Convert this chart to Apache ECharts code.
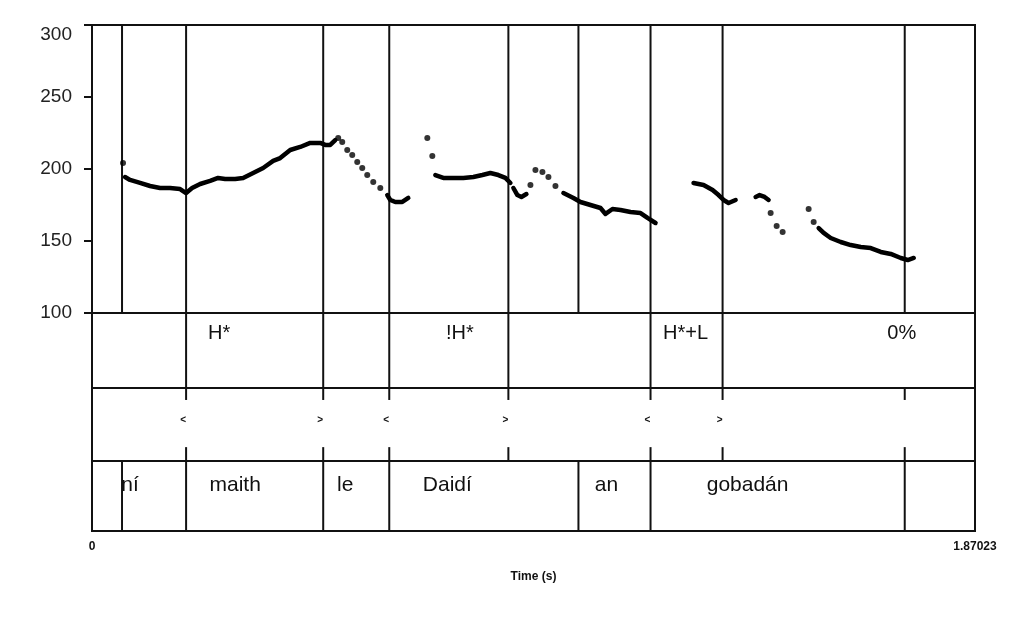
<!DOCTYPE html>
<html><head><meta charset="utf-8">
<script src="https://cdn.jsdelivr.net/npm/echarts@6/dist/echarts.min.js"></script>
<style>html,body{margin:0;padding:0;background:#fff}#c{width:1024px;height:624px}</style>
</head><body><div id="c"></div><script>
const T_MAX = 1.87023;
const yTicks = [100, 150, 200, 250, 300];
const xTickLabels = ['0', '1.87023'];

// pitch contour (seconds, Hz); null separates continuous stretches
const contourTime = [
0.0700,0.0806,0.1018,0.1230,0.1442,0.1654,0.1866,0.1993,0.2120,0.2290,0.2502,0.2671,0.2820,0.3032,0.3201,0.3413,0.3625,0.3837,0.3986,0.4198,0.4410,0.4622,0.4834,0.4940,0.5046,0.5152, null,
0.6254,0.6318,0.6424,0.6572,0.6699, null,
0.7272,0.7441,0.7653,0.7865,0.8077,0.8268,0.8438,0.8607,0.8756,0.8862, null,
0.8925,0.9010,0.9095,0.9201, null,
0.9985,1.0197,1.0346,1.0558,1.0770,1.0876,1.1024,1.1194,1.1406,1.1618,1.1766,1.1936, null,
1.2741,1.2953,1.3144,1.3271,1.3377,1.3483,1.3632, null,
1.4056,1.4140,1.4246,1.4331, null,
1.5391,1.5497,1.5646,1.5858,1.6070,1.6282,1.6494,1.6706,1.6918,1.7130,1.7278,1.7405
];
const contourHz = [
194.4,192.4,190.3,188.2,186.8,186.8,186.1,183.3,186.8,189.6,191.7,193.8,193.1,193.1,193.8,197.2,200.7,205.6,207.6,213.2,215.3,218.1,218.1,216.7,216.7,220.1, null,
181.9,178.5,177.1,177.1,179.9, null,
195.8,193.8,193.8,193.8,194.4,195.8,197.2,195.8,193.8,190.3, null,
186.8,181.9,180.6,182.6, null,
183.3,179.9,177.1,175.0,172.9,168.8,172.2,171.5,170.1,169.4,166.0,162.5, null,
190.3,188.9,185.4,181.9,178.5,176.4,178.5, null,
180.6,181.9,180.6,178.5, null,
159.0,155.6,152.1,149.3,147.2,145.8,145.1,142.4,141.0,138.2,136.8,138.2
];
// isolated pitch points
const dotTime = [0.0657, 0.5215,0.5300,0.5406,0.5512,0.5618,0.5724,0.5830,0.5957,0.6106, 0.7102,0.7208, 0.9286, 0.9392,0.9540,0.9667,0.9816, 1.4374,1.4501,1.4628, 1.5179,1.5285];
const dotHz   = [204.2, 221.5,218.8,213.2,209.7,204.9,200.7,195.8,191.0,186.8, 221.5,209.0, 188.9, 199.3,197.9,194.4,188.2, 169.4,160.4,156.2, 172.2,163.2];

const pitchBounds = [0.0636, 0.1993, 0.4897, 0.6296, 0.8819, 1.0303, 1.1830, 1.3356, 1.7214];
const toneBounds  = [0.1993, 0.4897, 0.6296, 0.8819, 1.1830, 1.3356];
const toneLabels  = ['H*', '!H*', 'H*+L', '0%'];
const toneTimes   = [0.2692, 0.7791, 1.2572, 1.7151];
const breakBounds = [0.1993, 0.4897, 0.6296, 0.8819, 1.1830, 1.3356, 1.7214];
const breakMarks  = ['<', '>', '<', '>', '<', '>'];
const breakTimes  = [0.1993, 0.4897, 0.6296, 0.8819, 1.1830, 1.3356];
const wordBounds  = [0.0636, 0.1993, 0.4897, 0.6296, 1.0303, 1.1830, 1.7214];
const words       = ['ní', 'maith', 'le', 'Daidí', 'an', 'gobadán'];
const wordTimes   = [0.0806, 0.3032, 0.5364, 0.7526, 1.0897, 1.3886];

const FONT = '"Liberation Sans", Arial, sans-serif';
const INK = '#111';

function vlines(gi, times, y0, y1) {
  return {
    type: 'custom', xAxisIndex: gi, yAxisIndex: gi, silent: true, animation: false,
    data: times.map(t => [t, y0]), encode: { x: 0, y: 1 },
    renderItem: (p, api) => {
      const a = api.coord([api.value(0), y0]);
      const b = api.coord([api.value(0), y1]);
      return { type: 'line', shape: { x1: a[0], y1: a[1], x2: b[0], y2: b[1] },
               style: { stroke: INK, lineWidth: 2 } };
    }
  };
}
function texts(gi, times, labels, yv, size, weight, dx) {
  return {
    type: 'custom', xAxisIndex: gi, yAxisIndex: gi, silent: true, animation: false,
    data: times.map(t => [t, yv]), encode: { x: 0, y: 1 },
    renderItem: (p, api) => {
      const c = api.coord([api.value(0), api.value(1)]);
      return { type: 'text', x: c[0] + dx, y: c[1],
               style: { text: labels[p.dataIndex], fill: INK, fontSize: size, fontWeight: weight,
                        fontFamily: FONT, align: 'center', verticalAlign: 'middle' } };
    }
  };
}

// split contour into continuous stretches
const segments = [];
let cur = [];
contourTime.forEach((t, i) => {
  if (t === null) { if (cur.length) segments.push(cur); cur = []; }
  else cur.push([t, contourHz[i]]);
});
if (cur.length) segments.push(cur);

const gridBase = { show: true, borderColor: INK, borderWidth: 2, left: 92, width: 883 };
const hiddenX = gi => ({ type: 'value', gridIndex: gi, min: 0, max: T_MAX, show: false });
const hiddenY = gi => ({ type: 'value', gridIndex: gi, min: 0, max: 1, show: false });

const series = [];
segments.forEach(seg => series.push({
  type: 'line', xAxisIndex: 0, yAxisIndex: 0, data: seg, showSymbol: false, animation: false,
  lineStyle: { color: '#000', width: 4.5, cap: 'round', join: 'round' }, silent: true
}));
series.push({
  type: 'scatter', xAxisIndex: 0, yAxisIndex: 0, symbolSize: 6, animation: false, silent: true,
  itemStyle: { color: '#000' }, data: dotTime.map((t, i) => [t, dotHz[i]])
});
series.push(vlines(0, pitchBounds, 100, 300));
series.push(vlines(1, toneBounds, 0, 1));
series.push(texts(1, toneTimes, toneLabels, 0.733, 20, 'normal', 0));
series.push(vlines(2, breakBounds, 1, 0.836));
series.push(vlines(2, breakBounds, 0.19, 0));
series.push(texts(2, breakTimes, breakMarks, 0.56, 10, 'bold', -3));
series.push(vlines(3, wordBounds, 0, 1));
series.push(texts(3, wordTimes, words, 0.657, 21, 'normal', 0));

const chart = echarts.init(document.getElementById('c'), null, { renderer: 'canvas' });
chart.setOption({
  backgroundColor: '#fff',
  animation: false,
  grid: [
    Object.assign({}, gridBase, { top: 25, height: 288 }),
    Object.assign({}, gridBase, { top: 313, height: 75 }),
    Object.assign({}, gridBase, { top: 388, height: 73 }),
    Object.assign({}, gridBase, { top: 461, height: 70 })
  ],
  xAxis: [
    hiddenX(0), hiddenX(1), hiddenX(2),
    {
      type: 'value', gridIndex: 3, min: 0, max: T_MAX, interval: T_MAX,
      axisLine: { show: true, lineStyle: { color: INK, width: 2 } },
      axisTick: { show: false }, splitLine: { show: false },
      axisLabel: { margin: 10, fontSize: 12, fontWeight: 'bold', fontFamily: FONT, color: INK,
                   formatter: v => (v === 0 ? xTickLabels[0] : xTickLabels[1]) },
      name: 'Time (s)', nameLocation: 'middle', nameGap: 40,
      nameTextStyle: { fontSize: 12, fontWeight: 'bold', fontFamily: FONT, color: INK }
    }
  ],
  yAxis: [
    {
      type: 'value', gridIndex: 0, min: yTicks[0], max: yTicks[yTicks.length - 1], interval: 50,
      axisLine: { show: true, lineStyle: { color: INK, width: 2 } },
      axisTick: { show: true, inside: false, length: 8, lineStyle: { color: INK, width: 2 } },
      splitLine: { show: false },
      axisLabel: { margin: 20, fontSize: 19, fontFamily: FONT, color: '#222',
                   verticalAlignMaxLabel: 'top' }
    },
    hiddenY(1), hiddenY(2), hiddenY(3)
  ],
  series: series
});
</script></body></html>
